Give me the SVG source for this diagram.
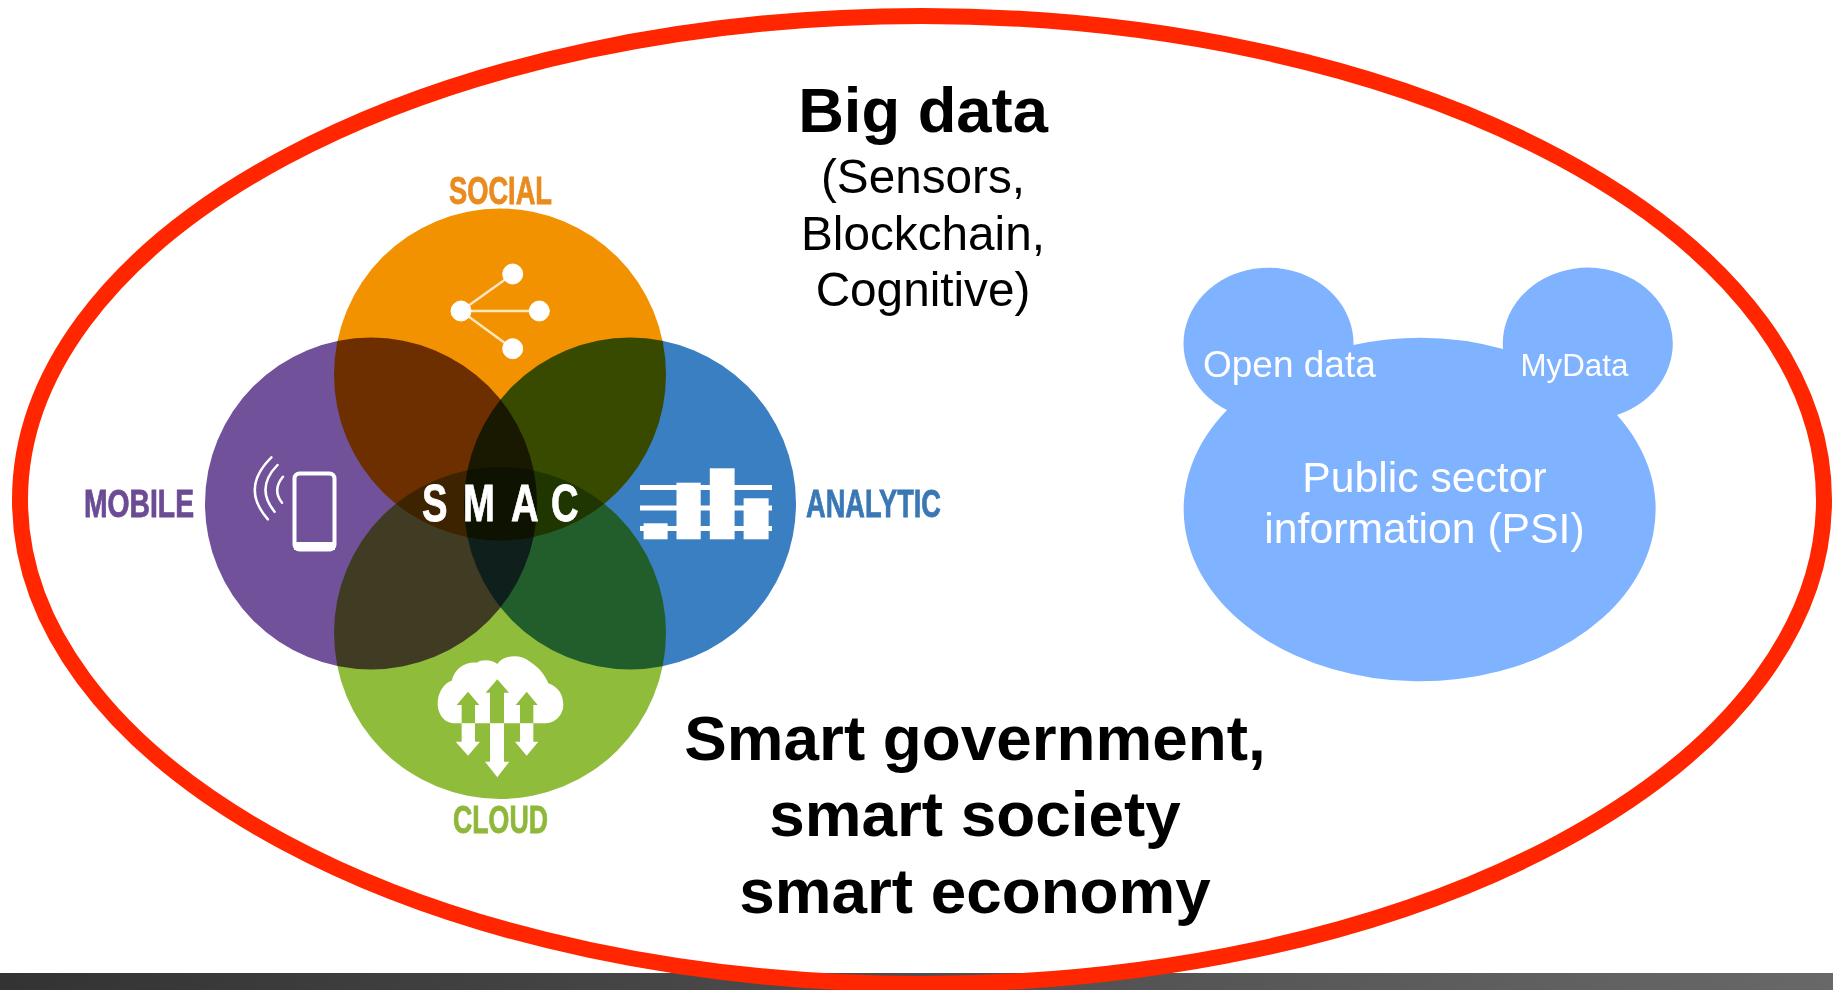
<svg xmlns="http://www.w3.org/2000/svg" width="1833" height="990" viewBox="0 0 1833 990">
<style>
.a{font-family:"Liberation Sans",Arial,sans-serif}
.b{font-weight:700;fill:#000;text-anchor:middle}
.n{font-size:47.7px;fill:#000;text-anchor:middle}
.w{fill:#fff}
.l{font-family:"Liberation Sans",Arial,sans-serif;font-weight:700;font-size:38px;stroke-width:.8px}
.m{mix-blend-mode:multiply}
</style>
<defs><linearGradient id="g"><stop offset="0" stop-color="#333"/><stop offset="1" stop-color="#686868"/></linearGradient></defs>
<rect width="1833" height="990" fill="#fff"/>
<rect id="bar" y="973" width="1833" height="17" fill="url(#g)"/>
<g id="venn" style="isolation:isolate">
<circle id="social" cx="500" cy="374.5" r="166" fill="#F39200" class="m"/>
<circle id="mobile" cx="371" cy="503.5" r="166" fill="#72519B" class="m"/>
<circle id="analytic" cx="630" cy="503.5" r="166" fill="#3A7FC1" class="m"/>
<circle id="cloud" cx="500" cy="633" r="166" fill="#8FBC3A" class="m"/>
</g>
<g id="icon-social" fill="#fff" stroke="#fff">
<path d="M461 311L512.7 274M461 311H539.3M461 311L512.7 348.7" stroke-width="2.5" fill="none" stroke="#FFE6C0"/>
<circle cx="512.7" cy="274" r="10"/><circle cx="461" cy="311" r="10"/><circle cx="539.3" cy="311" r="10"/><circle cx="512.7" cy="348.7" r="10"/>
</g>
<g id="icon-mobile" fill="none" stroke="#fff">
<rect x="294.5" y="473.5" width="40" height="76" rx="5" stroke-width="4"/>
<path d="M294 542H335V550H294Z" fill="#fff" stroke="none"/>
<path d="M271.4 457.3Q240 488 267.9 519.3M277.5 465Q255 488 274.6 511.7M282.9 476.7Q272 490 282 502.7" stroke-width="2.5" stroke-linecap="round"/>
</g>
<g id="icon-analytic" fill="#fff">
<rect x="643.6" y="523.3" width="24" height="16"/><rect x="676.5" y="482.7" width="24.2" height="56.6"/><rect x="709.8" y="468.3" width="24.8" height="71"/><rect x="743.6" y="498.3" width="25" height="41"/>
<rect x="640" y="485" width="132" height="5"/><rect x="640" y="505.5" width="132" height="5"/><rect x="640" y="526" width="132" height="5"/>
</g>
<g id="icon-cloud" transform="translate(420 640) scale(.33333)">
<path fill="#fff" d="M105 250C70 250 53 220 53 190C53 160 70 130 95 122C105 85 135 65 170 68C190 55 220 62 232 72C250 45 300 40 330 65C360 85 375 105 385 130C415 140 430 165 430 195C430 225 405 250 375 250Z"/>
<path fill="#8FBC3A" d="M125 250V195H110L144 155L178 195H165V250ZM210 250V158H197L232 118L267 158H252V250ZM300 250V195H287L320 155L353 195H340V250Z"/>
<path fill="#fff" d="M125 250H165V305H180L144 347L107 305H125ZM210 250H252V365H268L232 412L195 365H210ZM300 250H340V305H355L320 347L285 305H300Z"/>
</g>
<g id="venn-labels" class="l">
<text x="449" y="203.5" fill="#E98B1E" stroke="#E98B1E" textLength="103" lengthAdjust="spacingAndGlyphs">SOCIAL</text>
<text x="84" y="517" fill="#6B4C94" stroke="#6B4C94" textLength="110" lengthAdjust="spacingAndGlyphs">MOBILE</text>
<text x="806" y="517" fill="#3A78B5" stroke="#3A78B5" textLength="135" lengthAdjust="spacingAndGlyphs">ANALYTIC</text>
<text x="453" y="833" fill="#8FB83A" stroke="#8FB83A" textLength="95" lengthAdjust="spacingAndGlyphs">CLOUD</text>
<text transform="scale(.75 1)" x="562.7 617.3 681.3 734.7" y="521.5" class="w" stroke="#fff" style="font-size:51px">SMAC</text>
</g>
<ellipse id="boundary" cx="922" cy="500" rx="902" ry="484" fill="none" stroke="#FF2600" stroke-width="16"/>
<g id="big-data" class="a">
<text x="923" y="132" class="b" font-size="63.3">Big data</text>
<text x="923" y="192.5" class="n">(Sensors,</text>
<text x="923" y="250" class="n">Blockchain,</text>
<text x="923" y="306" class="n">Cognitive)</text>
</g>
<g id="smart" class="a">
<text x="975" y="760" class="b" font-size="63.8">Smart government,</text>
<text x="975" y="835.5" class="b" font-size="63.8">smart society</text>
<text x="975" y="913" class="b" font-size="63.8">smart economy</text>
</g>
<g id="psi" class="a">
<path fill="#7FB2FF" d="M1353.5 345A85 76 0 1 0 1227 410A236 172 0 1 0 1617 415A85 76 0 1 0 1503 349A236 172 0 0 0 1353.5 345Z"/>
<text x="1203" y="377" class="w" font-size="37">Open data</text>
<text x="1520.5" y="376" class="w" font-size="31.3">MyData</text>
<text x="1424.5" y="492" class="w" font-size="42.7" text-anchor="middle">Public sector</text>
<text x="1424.5" y="543" class="w" font-size="42.7" text-anchor="middle">information (PSI)</text>
</g>
</svg>
